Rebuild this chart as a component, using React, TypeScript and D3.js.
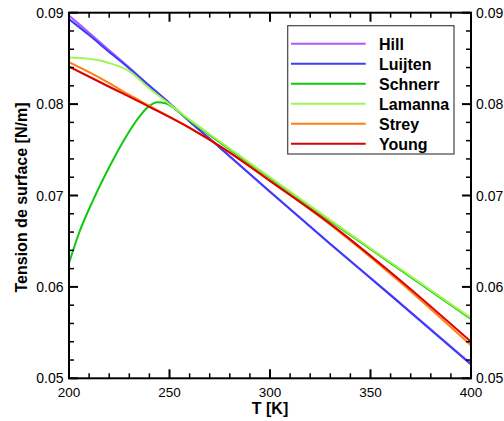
import React from "react";
import * as d3 from "d3";

const hillT = [200, 210, 220, 230, 240, 250, 260, 270, 300, 330, 360, 400];
const hillV = [0.0897, 0.0878, 0.0859, 0.0840, 0.0820, 0.0801, 0.0781, 0.0762, 0.0704, 0.0647, 0.0591, 0.0516];

const luijtenT = [200, 210, 220, 230, 240, 250, 260, 270, 300, 330, 360, 400];
const luijtenV = [0.0893, 0.08755, 0.0857, 0.0839, 0.0820, 0.0801, 0.0781, 0.0762, 0.0704, 0.0647, 0.0591, 0.0515];

const schnerrT = [200, 205, 212, 220, 228, 236, 240, 244, 248, 252, 256, 260, 270, 300, 330, 360, 400];
const schnerrV = [0.0626, 0.0659, 0.0695, 0.0731, 0.0763, 0.0789, 0.0798, 0.0802, 0.0801, 0.0796, 0.0789, 0.0782, 0.0766, 0.0719, 0.0672, 0.0626, 0.0565];

const lamannaT = [200, 210, 220, 230, 240, 250, 260, 270, 300, 330, 360, 400];
const lamannaV = [0.0851, 0.08495, 0.0845, 0.0836, 0.0817, 0.0800, 0.0783, 0.0767, 0.0720, 0.0673, 0.0627, 0.0566];

const streyT = [200, 210, 220, 230, 240, 260, 280, 300, 330, 360, 400];
const streyV = [0.0846, 0.0835, 0.0823, 0.0810, 0.0798, 0.0774, 0.0747, 0.0716, 0.0668, 0.0614, 0.0536];

const youngT = [200, 220, 240, 260, 280, 300, 330, 360, 400];
const youngV = [0.0841, 0.0819, 0.0797, 0.0774, 0.0747, 0.0716, 0.0669, 0.0616, 0.0540];

const seriesNames = ["Hill", "Luijten", "Schnerr", "Lamanna", "Strey", "Young"];
const seriesColors = ["#a95cff", "#3c3cff", "#10c810", "#a2f550", "#ff8010", "#dd0000"];
const seriesData = [
  [hillT, hillV],
  [luijtenT, luijtenV],
  [schnerrT, schnerrV],
  [lamannaT, lamannaV],
  [streyT, streyV],
  [youngT, youngV],
];

const xMajor = [200, 250, 300, 350, 400];
const yMajor = [0.05, 0.06, 0.07, 0.08, 0.09];
const yLabels = ["0.05", "0.06", "0.07", "0.08", "0.09"];

export default function App() {
  const W = 504, H = 421;
  const x0 = 69, x1 = 471, y0 = 12.7, y1 = 378.3;
  const x = d3.scaleLinear().domain([200, 400]).range([x0, x1]);
  const y = d3.scaleLinear().domain([0.05, 0.09]).range([y1, y0]);
  const xMinor = d3.range(200, 401, 10).filter((t) => t % 50 !== 0);
  const yMinor = d3.range(0, 21).map((i) => 0.05 + i * 0.002).filter((_, i) => i % 5 !== 0);
  const line = d3
    .line<[number, number]>()
    .x((d) => x(d[0]))
    .y((d) => y(d[1]))
    .curve(d3.curveMonotoneX);
  const font = "Arial, 'Liberation Sans', sans-serif";
  const MAJ = 9, MIN = 5;

  return (
    <svg
      width={W}
      height={H}
      style={{ position: "absolute", left: 0, top: 0, background: "#fff" }}
      fontFamily={font}
    >
      <rect x={0} y={0} width={W} height={H} fill="#fff" />
      {seriesData.map(([ts, vs], i) => (
        <path
          key={seriesNames[i]}
          d={line(ts.map((t, j) => [t, vs[j]] as [number, number])) || ""}
          fill="none"
          stroke={seriesColors[i]}
          strokeWidth={2}
        />
      ))}
      {/* ticks */}
      <g stroke="#000">
        {xMajor.map((t) => (
          <g key={"xm" + t} strokeWidth={2}>
            <line x1={x(t)} x2={x(t)} y1={y1} y2={y1 - MAJ} />
            <line x1={x(t)} x2={x(t)} y1={y0} y2={y0 + MAJ} />
          </g>
        ))}
        {xMinor.map((t) => (
          <g key={"xn" + t} strokeWidth={1.5}>
            <line x1={x(t)} x2={x(t)} y1={y1} y2={y1 - MIN} />
            <line x1={x(t)} x2={x(t)} y1={y0} y2={y0 + MIN} />
          </g>
        ))}
        {yMajor.map((v) => (
          <g key={"ym" + v} strokeWidth={2}>
            <line x1={x0} x2={x0 + MAJ} y1={y(v)} y2={y(v)} />
            <line x1={x1} x2={x1 - MAJ} y1={y(v)} y2={y(v)} />
          </g>
        ))}
        {yMinor.map((v) => (
          <g key={"yn" + v} strokeWidth={1.5}>
            <line x1={x0} x2={x0 + MIN} y1={y(v)} y2={y(v)} />
            <line x1={x1} x2={x1 - MIN} y1={y(v)} y2={y(v)} />
          </g>
        ))}
      </g>
      <rect x={x0} y={y0} width={x1 - x0} height={y1 - y0} fill="none" stroke="#000" strokeWidth={2} />
      {/* tick labels */}
      {xMajor.map((t) => (
        <text key={"xl" + t} x={x(t)} y={397} textAnchor="middle" fontSize={13.5} fill="#000">
          {t}
        </text>
      ))}
      {yMajor.map((v, i) => (
        <g key={"yl" + v}>
          <text x={63.5} y={y(v)} dy="0.36em" textAnchor="end" fontSize={14} fill="#000">
            {yLabels[i]}
          </text>
          <text x={476} y={y(v)} dy="0.36em" textAnchor="start" fontSize={14} fill="#000">
            {yLabels[i]}
          </text>
        </g>
      ))}
      {/* axis titles */}
      <text x={270} y={413.5} textAnchor="middle" fontSize={16} fontWeight="bold" fill="#000">
        T [K]
      </text>
      <text
        transform={`translate(27,${(y0 + y1) / 2 + 2}) rotate(-90)`}
        textAnchor="middle"
        fontSize={16}
        fontWeight="bold"
        fill="#000"
      >
        Tension de surface [N/m]
      </text>
      {/* legend */}
      <rect x={287.7} y={25.7} width={166.3} height={128.3} fill="#fff" stroke="#444" strokeWidth={1.2} />
      {seriesNames.map((name, i) => {
        const yy = 43.7 + i * 20;
        return (
          <g key={"lg" + name}>
            <line x1={291} x2={365.7} y1={yy} y2={yy} stroke={seriesColors[i]} strokeWidth={2} />
            <text x={379} y={yy + 5.8} fontSize={16} fontWeight="bold" fill="#000">
              {name}
            </text>
          </g>
        );
      })}
    </svg>
  );
}
